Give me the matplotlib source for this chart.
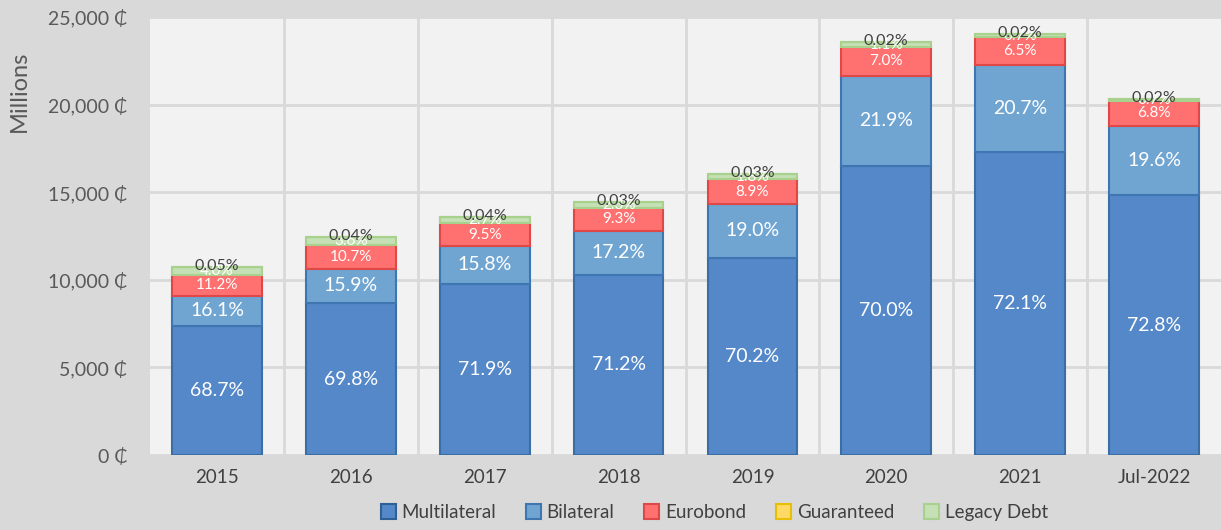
import matplotlib.pyplot as plt
from matplotlib.patches import Patch
from matplotlib.ticker import FuncFormatter, MultipleLocator
import numpy as np

years = ["2015", "2016", "2017", "2018", "2019", "2020", "2021", "Jul-2022"]
totals = [10730, 12420, 13600, 14450, 16050, 23550, 24000, 20350]  # millions

multilateral = [68.7, 69.8, 71.9, 71.2, 70.2, 70.0, 72.1, 72.8]
bilateral = [16.1, 15.9, 15.8, 17.2, 19.0, 21.9, 20.7, 19.6]
eurobond = [11.2, 10.7, 9.5, 9.3, 8.9, 7.0, 6.5, 6.8]
guaranteed = [4.0, 3.6, 2.7, 2.3, 1.8, 1.1, 0.7, 0.7]
legacy = [0.05, 0.04, 0.04, 0.03, 0.03, 0.02, 0.02, 0.02]

series = [
    ("Multilateral", multilateral, "#5588c8", "#3a6ea5", "white", 14),
    ("Bilateral", bilateral, "#70a5d2", "#3d76b0", "white", 14),
    ("Eurobond", eurobond, "#ff7070", "#e04848", "white", 11),
    ("Guaranteed", guaranteed, "#c5e0b4", "#a9d18e", "white", 11),
    ("Legacy Debt", legacy, "#c5e0b4", "#a9d18e", "#404040", 11.5),
]
legend_colors = {
    "Multilateral": ("#5588c8", "#2f5f94"),
    "Bilateral": ("#70a5d2", "#3d76b0"),
    "Eurobond": ("#ff7070", "#e04848"),
    "Guaranteed": ("#ffd966", "#e6c000"),
    "Legacy Debt": ("#c5e0b4", "#a9d18e"),
}

plt.rcParams['font.family'] = ['Lato', 'DejaVu Sans']

fig = plt.figure(figsize=(12.21, 5.30), dpi=100, facecolor="#d9d9d9")
ax = fig.add_axes([0.1229, 0.1415, 0.8771, 0.8265])
ax.set_facecolor("#f2f2f2")

x = np.arange(len(years))
tot = np.array(totals, dtype=float)
bottom = np.zeros(len(years))
for name, pct, fc, ec, tc, fs in series:
    vals = tot * np.array(pct) / 100
    ax.bar(x, vals, bottom=bottom, width=0.67, color=fc, edgecolor=ec,
           linewidth=1.5, zorder=3)
    for i in range(len(years)):
        yc = bottom[i] + vals[i] / 2
        if name == "Legacy Debt":
            yc = bottom[i] + vals[i] + 60
        label = f"{pct[i]:.2f}%" if name == "Legacy Debt" else f"{pct[i]:.1f}%"
        ax.text(x[i], yc, label, ha="center", va="center", color=tc,
                fontsize=fs, zorder=4)
    bottom += vals

ax.set_xlim(-0.5, len(years) - 0.5)
ax.set_ylim(0, 25000)
ax.set_xticks(x)
ax.set_xticklabels(years, fontsize=13.5, color="#404040")
ax.yaxis.set_major_locator(MultipleLocator(5000))
ax.yaxis.set_major_formatter(FuncFormatter(lambda v, p: f"{int(v):,} \u20b5"))
ax.tick_params(axis="y", labelsize=14, colors="#595959", length=0, pad=16)
ax.tick_params(axis="x", length=0, pad=10)
ax.set_xticks(np.arange(0.5, len(years) - 0.5, 1), minor=True)
ax.tick_params(which="minor", length=0)
ax.grid(axis="y", which="major", color="#d9d9d9", linewidth=2, zorder=0)
ax.grid(axis="x", which="minor", color="#d9d9d9", linewidth=2, zorder=0)
for s in ax.spines.values():
    s.set_visible(False)

ax.set_ylabel("Millions", fontsize=17, color="#595959")
ax.yaxis.set_label_coords(-0.112, 0.83)

handles = [Patch(facecolor=fc, edgecolor=ec, linewidth=1.5, label=n)
           for n, (fc, ec) in legend_colors.items()]
fig.legend(handles=handles, loc="lower center", bbox_to_anchor=(0.585, -0.015),
           ncol=5, frameon=False, fontsize=13.5, handlelength=0.8,
           handleheight=0.8, handletextpad=0.3, columnspacing=1.6,
           labelcolor="#404040")

fig.savefig("out.png", dpi=100, facecolor=fig.get_facecolor())
